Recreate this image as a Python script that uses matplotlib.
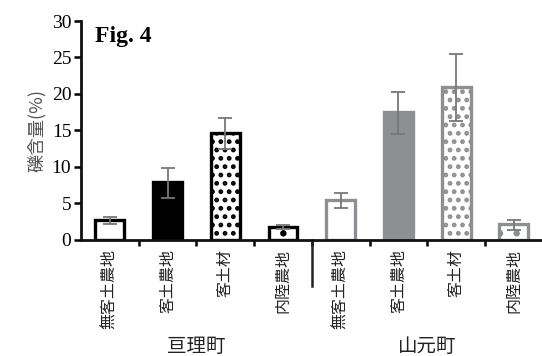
import numpy as np
import matplotlib.pyplot as plt
import matplotlib as mpl

# 礫含量 (%) by land use, two towns
towns = ['亘理町', '山元町']
cats = ['無客土農地', '客土農地', '客土材', '内陸農地']
values = [2.7, 8.0, 14.7, 1.8, 5.5, 17.5, 20.9, 2.2]
err_low = [2.2, 5.7, 12.4, 1.5, 4.4, 14.5, 16.3, 1.4]
err_high = [3.1, 9.8, 16.7, 2.1, 6.5, 20.3, 25.5, 2.7]

gray = '#8e8f92'
faces = ['white', 'black', 'white', 'white', 'white', gray, 'white', 'white']
edges = ['black'] * 4 + [gray] * 4
hatches = [None, None, '..', '.', None, None, '..', '.']

mpl.rcParams['hatch.linewidth'] = 2.2
serif = ['Liberation Serif', 'DejaVu Serif']
cjk = ['Noto Sans CJK JP', 'DejaVu Sans']

fig = plt.figure(figsize=(5.42, 3.56), dpi=100)
ax = fig.add_axes([0.1494, 0.326, 0.852, 0.615])

x = np.arange(len(values))
for i in range(len(values)):
    ax.bar(x[i], values[i], width=0.5, color=faces[i], edgecolor=edges[i],
           linewidth=2.4, hatch=hatches[i], zorder=2)
yerr = [np.array(values) - np.array(err_low), np.array(err_high) - np.array(values)]
ax.errorbar(x, values, yerr=yerr, fmt='none', ecolor='#777777', elinewidth=1.3,
            capsize=5, capthick=1.3, zorder=3)

ax.set_xlim(-0.5, len(values) - 0.5)
ax.set_ylim(0, 30)
ax.set_yticks(range(0, 31, 5))
ax.set_yticklabels([str(v) for v in range(0, 31, 5)], family=serif, fontsize=14)
ax.tick_params(axis='y', direction='out', length=5, width=1.8, pad=2)

ax.set_xticks(x + 0.5, minor=False)
ax.set_xticklabels([])
ax.tick_params(axis='x', direction='out', length=4, width=1.8)
for i in range(len(values)):
    ax.text(x[i], -1.2, cats[i % 4], rotation=90, ha='center', va='top',
            family=cjk, fontsize=11.5, color='#222222')
for j, t in enumerate(towns):
    ax.text(1.5 + 4 * j, -14.6, t, ha='center', va='center', family=cjk,
            fontsize=14, color='#222222')
ax.plot([3.5, 3.5], [0, -6.3], color='#222222', lw=1.8, clip_on=False)

for s in ['top', 'right']:
    ax.spines[s].set_visible(False)
for s in ['left', 'bottom']:
    ax.spines[s].set_linewidth(2)
    ax.spines[s].set_color('#111111')

ax.set_ylabel('礫含量(%)', family=cjk, fontsize=13, color='#555555', labelpad=4)
ax.text(0.03, 0.93, 'Fig. 4', transform=ax.transAxes, family=serif,
        fontweight='bold', fontsize=17, ha='left', va='center')

fig.savefig('out.png', dpi=100)
